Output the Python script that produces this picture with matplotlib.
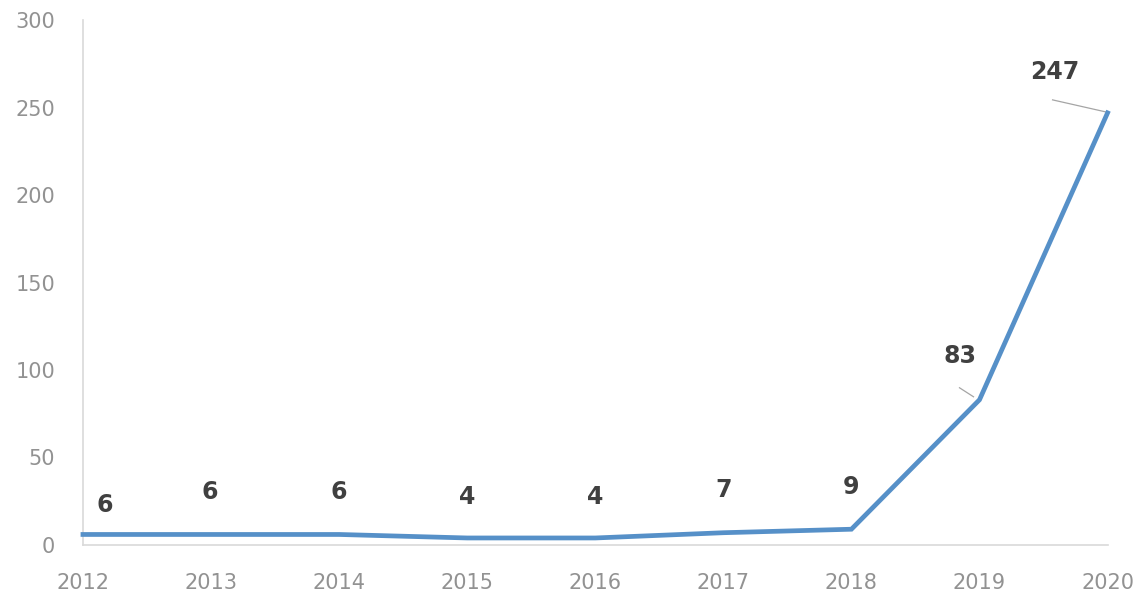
import matplotlib.pyplot as plt

# 数据
years = ['2012', '2013', '2014', '2015', '2016', '2017', '2018', '2019', '2020']
counts = [6, 6, 6, 4, 4, 7, 9, 83, 247]
yticks = [0, 50, 100, 150, 200, 250, 300]

# 标签偏移 (像素)
label_offsets = [(22, 29), (-1, 42), (0, 42), (0, 41), (0, 41), (0, 43), (0, 42), (-19, 44), (-53, 41)]
# 引导线 (起点, 终点) 偏移，像素；None 表示无引导线
leader_lines = [None, None, None, None, None, None, None,
                ((-20, 12), (-6, 3)), ((-55, 13), (-2, 1))]

plt.rcParams['font.family'] = ['DejaVu Sans']

fig = plt.figure(figsize=(11.41, 5.93), dpi=100)
ax = fig.add_axes([0.0727, 0.081, 0.898, 0.885])

x = list(range(len(years)))
ax.plot(x, counts, color='#5690c8', linewidth=3.4, solid_joinstyle='miter', clip_on=False, zorder=3)

ax.set_xlim(0, len(years) - 1)
ax.set_ylim(0, 300)
ax.set_xticks(x)
ax.set_xticklabels(years)
ax.set_yticks(yticks)

for i, (v, off, ld) in enumerate(zip(counts, label_offsets, leader_lines)):
    ax.annotate(str(v), xy=(i, v), xytext=off, textcoords='offset pixels',
                ha='center', va='center', fontsize=17, fontweight='bold', color='#404040')
    if ld is not None:
        # 引导线: 以数据点为基准的像素偏移
        p0, p1 = ld
        x0, y0 = ax.transData.transform((i, v))
        inv = ax.transData.inverted()
        a = inv.transform((x0 + p0[0], y0 + p0[1]))
        b = inv.transform((x0 + p1[0], y0 + p1[1]))
        ax.plot([a[0], b[0]], [a[1], b[1]], color='#a5a5a5', lw=0.9, clip_on=False, zorder=2)

ax.tick_params(axis='both', length=0, labelsize=15, labelcolor='#929292')
ax.tick_params(axis='x', pad=20)
ax.tick_params(axis='y', pad=20)

for s in ['top', 'right']:
    ax.spines[s].set_visible(False)
ax.spines['left'].set_color('#d9d9d9')
ax.spines['bottom'].set_color('#d9d9d9')
ax.spines['left'].set_linewidth(1.2)
ax.spines['bottom'].set_linewidth(1.2)

plt.savefig('out.png', dpi=100)
plt.close()
